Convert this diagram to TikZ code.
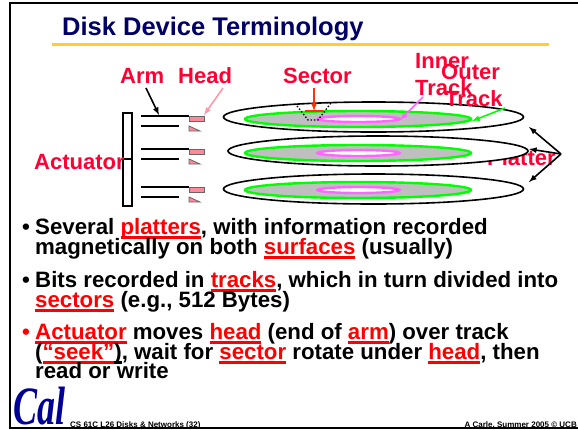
\documentclass[tikz,border=0pt]{standalone}
\usepackage{fontspec}
\usetikzlibrary{positioning}
\setmainfont{Liberation Sans}
\newfontfamily\calfont{Liberation Serif}
\definecolor{titleblue}{RGB}{0,0,102}
\definecolor{ruleyellow}{RGB}{255,204,51}
\definecolor{labelred}{RGB}{255,0,51}
\definecolor{keyred}{RGB}{255,0,0}
\definecolor{headpink}{RGB}{255,136,153}
\definecolor{headarrow}{RGB}{255,153,170}
\definecolor{trackgreen}{RGB}{0,255,0}
\definecolor{trackpink}{RGB}{255,102,255}
\definecolor{sectororange}{RGB}{255,51,0}
\definecolor{calblue}{RGB}{0,0,153}
\newcommand{\keywordin}[2]{\sbox0{\color{#1}#2}\rlap{\color{#1}\vrule width \wd0 height -2pt depth 4.6pt}\box0\relax}
\newcommand{\keyword}[1]{\keywordin{keyred}{#1}}
\tikzset{
    label text/.style={anchor=base west, inner sep=0pt, text=labelred, font=\fontsize{22}{22}\selectfont\bfseries},
    body text/.style={anchor=base west, inner sep=0pt, font=\fontsize{22.25}{22}\selectfont\bfseries},
    foot text/.style={anchor=base west, inner sep=0pt, font=\fontsize{8}{8}\selectfont\bfseries},
    platter/.style={draw=black, fill=white, line width=1.6pt},
    data zone/.style={draw=trackgreen, fill=black!25, line width=2.4pt},
    inner zone/.style={draw=trackpink, fill=white, line width=2.4pt},
    arm line/.style={line width=1.6pt},
    head box/.style={draw=black!60, fill=headpink, line width=0.8pt},
    pointer/.style={-latex, line width=1.6pt}
}
\begin{document}
\begin{tikzpicture}[x=1pt, y=-1pt]
    \useasboundingbox (0,0) rectangle (578,429);
    % slide frame
    \draw [line width=2.4pt] (578,3) -- (10,3) -- (10,428) -- (578,428);
    \node [anchor=base west, inner sep=0pt, text=titleblue, font=\fontsize{25.5}{26}\selectfont\bfseries] (title) at (62,35) {Disk Device Terminology};
    \draw [ruleyellow, line width=2.4pt] (52,44.5) -- (549,44.5);

    % labels under the platters
    \node [label text] (platterlabel) at (487,165) {Platter};

    % platters
    \foreach \name/\yo/\xo/\yd in {one/117/373.5/119, two/151/378/153, three/189/373.5/190} {
        \draw [platter] (\xo,\yo) ellipse [x radius=150, y radius=15];
        \draw [data zone] (358,\yd) ellipse [x radius=113, y radius=8];
        \draw [inner zone] (358.5,\yd) ellipse [x radius=41, y radius=3];
    }

    % actuator and arms
    \draw [line width=1.4pt, fill=white] (123,113) rectangle (132,206);
    \draw [arm line] (123,159) -- (132,159);
    \foreach \yo in {116, 149, 187} {
        \draw [arm line] (141,\yo) -- (189,\yo);
        \draw [arm line] (141,\yo+10) -- (179,\yo+10);
        \draw [head box] (189,\yo+0.5) rectangle (204,\yo+5);
        \draw [head box] (189,\yo+10) -- (200,\yo+15) -- (189,\yo+15) -- cycle;
    }

    % sector
    \draw [line width=1.4pt, dotted] (297,106) -- (308,120) -- (318,120) -- (331,103);
    \draw [sectororange, line width=1.8pt] (305,111) -- (323,111);

    \node [label text] (armlabel) at (120,83) {Arm};
    \node [label text] (headlabel) at (178,83) {Head};
    \node [label text] (sectorlabel) at (283,83) {Sector};
    \node [label text] (innerlabel) at (415,68) {Inner};
    \node [label text] (innertrack) at (415,95) {Track};
    \node [label text] (outerlabel) at (441,79) {Outer};
    \node [label text] (outertrack) at (445,106) {Track};
    \node [label text] (actuatorlabel) at (34,169) {Actuator};

    % pointers
    \coordinate (armtip) at (159,115);
    \coordinate (headtip) at (204,115);
    \coordinate (sectortip) at (314,111);
    \coordinate (innertip) at (400,120);
    \coordinate (outertip) at (472,121);
    \coordinate (fan) at (561,154);
    \draw [pointer] (146,88) -- (armtip);
    \draw [pointer, headarrow] (223,88) -- (headtip);
    \draw [pointer, sectororange] (314,88) -- (sectortip);
    \draw [pointer, trackpink] (423,97) -- (innertip);
    \draw [pointer, trackgreen] (505,108) -- (outertip);
    \draw [pointer] (fan) -- (529,127);
    \draw [pointer] (fan) -- (529,149);
    \draw [pointer] (fan) -- (529,182);

    % bullets
    \node [body text] (dotone) at (22,234) {•};
    \node [body text] (dottwo) at (22,287) {•};
    \node [body text, text=keyred] (dotthree) at (22,339) {•};
    \node [body text] (lineone) at (35,234) {Several \keyword{platters}, with information recorded};
    \node [body text] (linetwo) at (35,254) {magnetically on both \keyword{surfaces} (usually)};
    \node [body text] (linethree) at (35,287) {Bits recorded in \keyword{tracks}, which in turn divided into};
    \node [body text] (linefour) at (35,307) {\keyword{sectors} (e.g., 512 Bytes)};
    \node [body text] (linefive) at (35,339) {\keyword{Actuator} moves \keyword{head} (end of \keyword{arm}) over track};
    \node [body text] (linesix) at (35,359) {(\keyword{“seek”}\keywordin{black}{)}, wait for \keyword{sector} rotate under \keyword{head}, then};
    \node [body text] (lineseven) at (35,378) {read or write};

    % footer
    \node [anchor=base west, inner sep=0pt, text=calblue, font=\fontsize{36}{36}\calfont\bfseries\itshape, yscale=1.5, transform shape] (callogo) at (13,424) {Cal};
    \node [foot text] (footleft) at (70,427) {CS 61C L26 Disks \& Networks (32)};
    \node [foot text, anchor=base east] (footright) at (577,427) {A Carle, Summer 2005 © UCB};
\end{tikzpicture}
\end{document}
